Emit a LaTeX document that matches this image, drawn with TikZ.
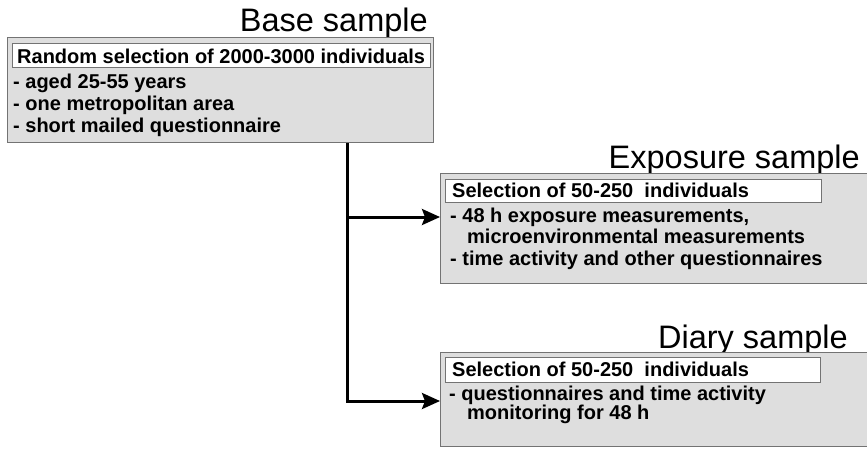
\documentclass[tikz,border=0pt]{standalone}
\usepackage{fontspec}
\setmainfont{Liberation Sans}
\usetikzlibrary{arrows.meta}
\begin{document}
\begin{tikzpicture}[x=1pt,y=-1pt,
  outerbox/.style={draw=black!55, line width=0.9pt, fill=black!13,
    rectangle, inner sep=0pt, anchor=north west},
  titlebox/.style={draw=black!55, line width=0.7pt, fill=white,
    rectangle, inner sep=0pt, anchor=north west},
  titletext/.style={font=\fontsize{20}{22}\selectfont\bfseries,
    anchor=base west, inner sep=0pt},
  heading/.style={font=\fontsize{32.5}{36}\selectfont,
    anchor=base east, inner sep=0pt},
  body/.style={font=\fontsize{20}{22}\selectfont\bfseries,
    anchor=base west, inner sep=0pt},
  link/.style={line width=3pt,
    -{Stealth[length=18pt,width=16pt,inset=3pt]}}]
\useasboundingbox (0,0) rectangle (867,448);
\clip (0,0) rectangle (867,448);
\fill[white] (0,0) rectangle (867,448);

% Base sample
\node[heading] (baseh) at (428,31) {Base sample};
\node[outerbox, minimum width=426pt, minimum height=105pt] (base) at (7,37) {};
\node[titlebox, minimum width=418pt, minimum height=24pt] (baset) at (12,43) {};
\node[titletext] (basett) at (17,63) {Random selection of 2000-3000 individuals};
\node[body] (baseb1) at (13,88) {- aged 25-55 years};
\node[body] (baseb2) at (13,110) {- one metropolitan area};
\node[body] (baseb3) at (13,132) {- short mailed questionnaire};

% Exposure sample
\node[heading] (expoh) at (860,168) {Exposure sample};
\node[outerbox, minimum width=440pt, minimum height=110pt] (expo) at (440,173) {};
\node[titlebox, minimum width=376pt, minimum height=23pt] (expot) at (445,179) {};
\node[titletext] (expott) at (452,197) {Selection of 50-250\ \ individuals};
\node[body] (expob1) at (450,222) {- 48 h exposure measurements,};
\node[body] (expob2) at (467,243) {microenvironmental measurements};
\node[body] (expob3) at (450,265) {- time activity and other questionnaires};

% Diary sample
\node[heading] (diaryh) at (848,348) {Diary sample};
\node[outerbox, minimum width=440pt, minimum height=94pt] (diary) at (440,352) {};
\node[titlebox, minimum width=375pt, minimum height=25pt] (diaryt) at (445,357) {};
\node[titletext] (diarytt) at (452,376) {Selection of 50-250\ \ individuals};
\node[body] (diaryb1) at (449,400) {- questionnaires and time activity};
\node[body] (diaryb2) at (467,419) {monitoring for 48 h};

% Connectors
\coordinate (fork) at (347,0);
\draw[link] (base.south -| fork) |- (diary.west |- 0,401);
\draw[link] (fork |- 0,217) -- (expo.west |- 0,217);
\end{tikzpicture}
\end{document}
